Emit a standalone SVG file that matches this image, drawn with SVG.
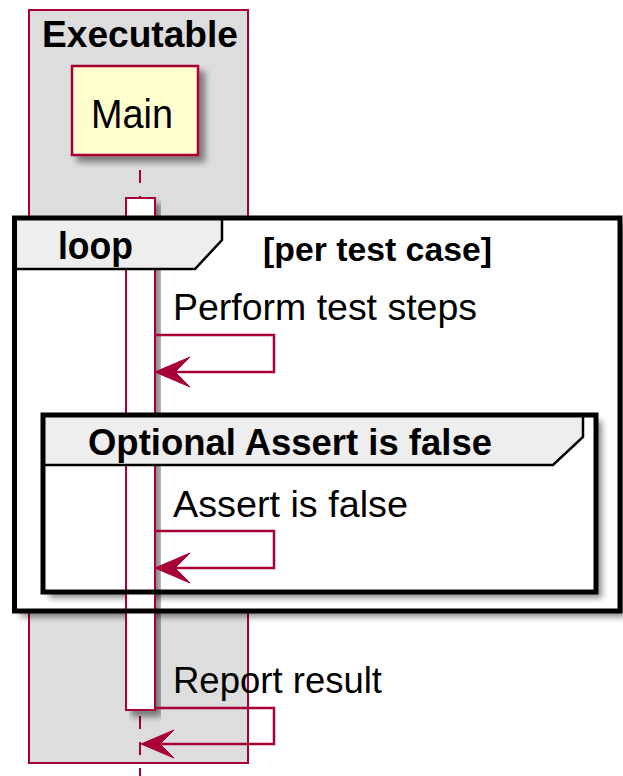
<svg xmlns="http://www.w3.org/2000/svg" width="623" height="776" viewBox="0 0 623 776">
<style>
.lbl{font-family:"Liberation Sans",Arial,sans-serif;fill:#000}
.b{font-weight:bold}
.crim{stroke:#A80036;fill:none}
.frame{fill:none;stroke:#000;stroke-width:5}
.tabline{fill:none;stroke:#000;stroke-width:2.5}
.tab{fill:#EEEEEE;stroke:none}
.msg{fill:none;stroke:#A80036;stroke-width:2.5}
.head{fill:#A80036;stroke:#A80036;stroke-width:1}
</style>
<defs>
<filter id="sh" x="-10%" y="-10%" width="130%" height="130%">
<feGaussianBlur in="SourceAlpha" stdDeviation="3"/>
<feOffset dx="6" dy="6" result="o"/>
<feComponentTransfer><feFuncA type="linear" slope="0.45"/></feComponentTransfer>
<feMerge><feMergeNode/><feMergeNode in="SourceGraphic"/></feMerge>
</filter>
</defs>
<rect x="0" y="0" width="623" height="776" fill="#fff"/>
<g id="box-executable">
<rect x="29" y="10" width="219" height="753" fill="#DDDDDD" stroke="#A80036" stroke-width="2"/>
<text class="lbl b" x="42" y="47" font-size="36" textLength="196" lengthAdjust="spacingAndGlyphs">Executable</text>
</g>
<g id="main">
<rect x="72" y="66" width="126" height="89" fill="#FEFECE" stroke="#A80036" stroke-width="2.5" filter="url(#sh)"/>
<text class="lbl" x="91" y="128" font-size="40" textLength="82" lengthAdjust="spacingAndGlyphs">Main</text>
</g>
<g id="lifeline">
<line x1="140" y1="157" x2="140" y2="776" stroke="#A80036" stroke-width="2" stroke-dasharray="13 13" stroke-dashoffset="13"/>
</g>
<g id="loop-frame-bg">
<rect x="14.5" y="218" width="605.5" height="393" fill="#fff" filter="url(#sh)"/>
</g>
<g id="opt-frame-bg">
<rect x="43" y="415" width="553" height="177" fill="#fff" filter="url(#sh)"/>
</g>
<g id="activation">
<rect x="126" y="198" width="29" height="512" fill="#fff" stroke="#A80036" stroke-width="2" filter="url(#sh)"/>
</g>
<g id="loop">
<path class="tab" d="M14.5,218 H222 V240 L195,269 H14.5 Z"/>
<path class="tabline" d="M222,218 V240 L195,269 H14.5"/>
<rect class="frame" x="14.5" y="218" width="605.5" height="393"/>
<text class="lbl b" x="58" y="259" font-size="38" textLength="75" lengthAdjust="spacingAndGlyphs">loop</text>
<text class="lbl b" x="263" y="261" font-size="33" textLength="229" lengthAdjust="spacingAndGlyphs">[per test case]</text>
</g>
<g id="opt">
<path class="tab" d="M43,415 H583 V437 L553,465 H43 Z"/>
<path class="tabline" d="M583,415 V437 L553,465 H43"/>
<rect class="frame" x="43" y="415" width="553" height="177"/>
<text class="lbl b" x="88" y="455" font-size="37" textLength="404" lengthAdjust="spacingAndGlyphs">Optional Assert is false</text>
</g>
<g id="connectors">
<path class="msg" d="M155,335 H274 V372 H162"/>
<polygon class="head" points="155,372 190,357 175,372 190,387"/>
<path class="msg" d="M155,531 H274 V568 H162"/>
<polygon class="head" points="155,568 190,553 175,568 190,583"/>
<path class="msg" d="M155,708 H274 V744 H148"/>
<polygon class="head" points="141,744 174,730 160,744 174,758"/>
</g>
<g id="labels">
<text class="lbl" x="173" y="320" font-size="36" textLength="304" lengthAdjust="spacingAndGlyphs">Perform test steps</text>
<text class="lbl" x="173" y="517" font-size="36" textLength="235" lengthAdjust="spacingAndGlyphs">Assert is false</text>
<text class="lbl" x="173" y="693" font-size="36" textLength="209" lengthAdjust="spacingAndGlyphs">Report result</text>
</g>
</svg>
